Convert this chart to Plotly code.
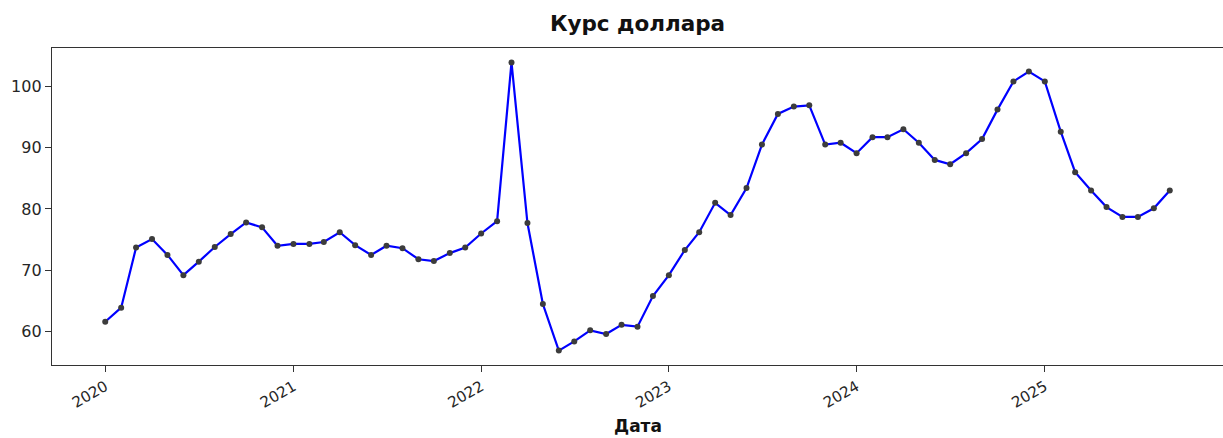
import plotly.graph_objects as go
import pandas as pd

# Monthly USD/RUB rate, 2020-01 .. 2025-09
dates = pd.date_range("2020-01-01", "2025-09-01", freq="MS")
rates = [
    61.6, 63.9, 73.7, 75.1, 72.5, 69.2, 71.4, 73.8, 75.9, 77.8, 77.0, 74.0,   # 2020
    74.3, 74.3, 74.6, 76.2, 74.1, 72.5, 74.0, 73.6, 71.8, 71.5, 72.8, 73.7,   # 2021
    76.0, 78.0, 103.9, 77.7, 64.5, 56.9, 58.4, 60.2, 59.6, 61.1, 60.8, 65.8,  # 2022
    69.2, 73.3, 76.2, 81.0, 79.0, 83.4, 90.5, 95.5, 96.7, 96.9, 90.5, 90.8,   # 2023
    89.1, 91.7, 91.7, 93.0, 90.8, 88.0, 87.3, 89.1, 91.4, 96.2, 100.8, 102.4, # 2024
    100.8, 92.6, 86.0, 83.0, 80.3, 78.7, 78.7, 80.1, 83.0,                    # 2025
]
year_ticks = ["2020-01-01", "2021-01-01", "2022-01-01", "2023-01-01", "2024-01-01", "2025-01-01"]
year_labels = ["2020", "2021", "2022", "2023", "2024", "2025"]

title_text = "Курс доллара"
xlabel_text = "Дата"

font_family = "DejaVu Sans"

fig = go.Figure()
fig.add_trace(go.Scatter(
    x=dates, y=rates, mode="lines+markers",
    line=dict(color="#0000ff", width=2.2),
    marker=dict(color="#3c3c3c", size=6),
    showlegend=False,
))

fig.update_layout(
    width=1223, height=438,
    margin=dict(l=52, r=0, t=48, b=73),
    paper_bgcolor="white", plot_bgcolor="white",
    font=dict(family=font_family, color="#262626"),
    title=dict(text=f"<b>{title_text}</b>", x=0.5, xref="paper",
               y=1 - 23 / 438, yanchor="middle", yref="container",
               font=dict(size=21.5, color="#111111", family=font_family)),
    annotations=[dict(text=f"<b>{xlabel_text}</b>", x=0.5, xref="paper",
                      y=-(426.5 - 365) / 317, yref="paper", yanchor="middle",
                      showarrow=False, font=dict(size=17, color="#111111", family=font_family))],
)

fig.update_xaxes(
    range=["2019-09-19 12:00", "2025-12-13 12:00"],
    tickmode="array", tickvals=year_ticks, ticktext=year_labels,
    tickangle=-30, tickfont=dict(size=15),
    ticks="outside", ticklen=6, tickcolor="#333333",
    showline=True, linecolor="#333333", linewidth=1.3, mirror=True,
    showgrid=False, zeroline=False,
)
fig.update_yaxes(
    range=[54.55, 106.25],
    tickvals=[60, 70, 80, 90, 100],
    tickfont=dict(size=16),
    ticks="outside", ticklen=6, tickcolor="#333333",
    showline=True, linecolor="#333333", linewidth=1.3, mirror=False,
    showgrid=False, zeroline=False,
)

fig.write_html(
    "out.html",
    config={"displayModeBar": False},
    post_script="document.body.style.margin='0px';document.body.style.overflow='hidden';",
)
